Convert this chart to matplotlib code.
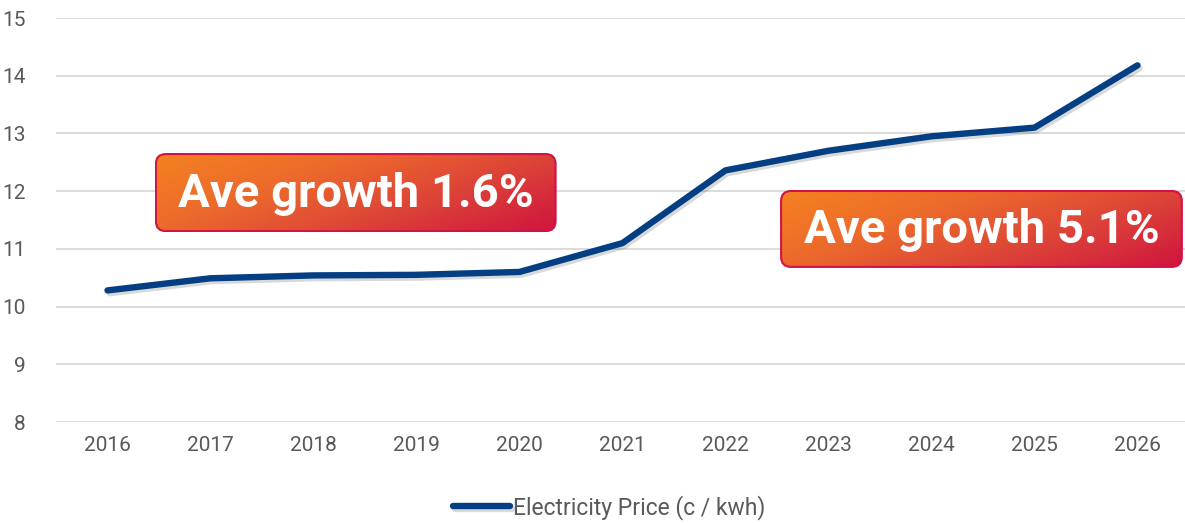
import numpy as np
import matplotlib
matplotlib.use("Agg")
import matplotlib.pyplot as plt
import matplotlib.patheffects as pe
from matplotlib.colors import LinearSegmentedColormap
from matplotlib.patches import FancyBboxPatch

years = ["2016", "2017", "2018", "2019", "2020", "2021",
         "2022", "2023", "2024", "2025", "2026"]
price = [10.28, 10.49, 10.54, 10.55, 10.60, 11.10,
         12.36, 12.70, 12.95, 13.10, 14.18]
series_name = "Electricity Price (c / kwh)"
notes = ["Ave growth 1.6%", "Ave growth 5.1%"]
# note boxes in data coords: x0, x1, y0, y1
note_boxes = [(0.46, 4.36, 11.29, 12.66), (6.53, 10.44, 10.67, 12.02)]

line_col = "#043F83"
txt_col = "#595959"
fs = 15

W, H = 1185, 523
fig = plt.figure(figsize=(W / 100, H / 100), dpi=100)
ax = fig.add_axes([56 / W, (H - 422) / H, (1189 - 56) / W, (422 - 18) / H])

x = np.arange(len(years))
ax.plot(x, price, color=line_col, lw=4.6, solid_capstyle="round", solid_joinstyle="round",
        label=series_name, zorder=3,
        path_effects=[pe.SimpleLineShadow(offset=(1.5, -2), alpha=0.15, shadow_color="k"), pe.Normal()])

ax.set_xlim(-0.5, len(years) - 0.5)
ax.set_ylim(8, 15)
ax.set_yticks(range(8, 16))
ax.set_xticks(x)
ax.set_xticklabels(years)
ax.grid(axis="y", color="#d9d9d9", lw=1.3)
ax.set_axisbelow(True)
for s in ax.spines.values():
    s.set_visible(False)
ax.tick_params(length=0, labelsize=fs, labelcolor=txt_col, pad=10)
ax.tick_params(axis="y", pad=22)
for lab in ax.get_xticklabels() + ax.get_yticklabels():
    lab.set_family("Roboto")

# gradient note boxes
cmap = LinearSegmentedColormap.from_list("og", ["#F58220", "#EC6A2C", "#DC4238", "#D0143F"])
axw_px = 1189 - 56
for (x0, x1, y0, y1), note in zip(note_boxes, notes):
    bw = (x1 - x0) * axw_px / len(years)
    bh = (y1 - y0) * (422 - 18) / 7
    iax = ax.inset_axes([x0, y0, x1 - x0, y1 - y0], transform=ax.transData, zorder=5)
    iax.set_xlim(0, bw)
    iax.set_ylim(0, bh)
    iax.axis("off")
    gx, gy = np.meshgrid(np.linspace(0, 1, 200), np.linspace(1, 0, 50))
    grad = 0.65 * gx + 0.35 * (1 - gy)
    im = iax.imshow(grad, cmap=cmap, extent=[0, bw, 0, bh], aspect="auto", origin="upper", vmin=0, vmax=1)
    patch = FancyBboxPatch((1, 1), bw - 2, bh - 2, boxstyle="round,pad=0,rounding_size=10",
                           facecolor="none", edgecolor="#D31145", lw=1.5)
    iax.add_patch(patch)
    im.set_clip_path(patch)
    iax.text(bw / 2, bh / 2 - 1, note, ha="center", va="center", color="white",
             fontsize=34, fontweight="bold", family="Roboto")

leg = fig.legend(loc="center", bbox_to_anchor=(0.514, 0.03), frameon=False,
                 handlelength=2.5, handletextpad=0.1, prop={"family": "Roboto", "size": 16.5})
for t in leg.get_texts():
    t.set_color(txt_col)

fig.savefig("out.png", dpi=100)
